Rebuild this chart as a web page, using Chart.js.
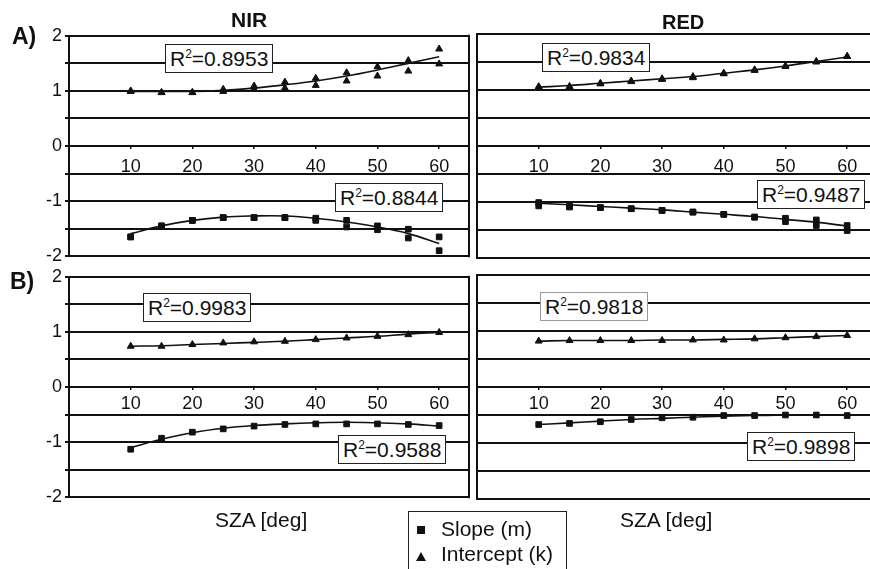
<!DOCTYPE html>
<html>
<head>
<meta charset="utf-8">
<script src="https://cdn.jsdelivr.net/npm/chart.js@4.4.1/dist/chart.umd.min.js"></script>
<style>
    html, body { margin: 0; padding: 0; background: #fff; }
    body {
        width: 870px; height: 569px; overflow: hidden; position: relative;
        font-family: 'Liberation Sans', Arial, sans-serif; color: #111;
    }
    canvas.panel { position: absolute; }
    .lbl { position: absolute; line-height: 1; white-space: nowrap; }
    .bold { font-weight: bold; }
    .r2 {
        position: absolute; background: #fff; border: 1.5px solid #222;
        font-size: 21px; line-height: 27px; padding: 0 4px; white-space: nowrap;
    }
    .r2 sup { font-size: 12px; line-height: 0; vertical-align: 8px; }
    .r2.light { border-color: #999; }
    #legend {
        position: absolute; left: 408px; top: 511px; width: 157px; height: 70px;
        border: 1.5px solid #222; background: #fff; font-size: 21px;
    }
    #legend .row { position: absolute; left: 32px; line-height: 25px; white-space: nowrap; }
    #legend .sq { position: absolute; left: 8px; top: 14px; width: 8px; height: 8px; background: #111; }
    #legend .tri {
        position: absolute; left: 7px; top: 40px; width: 0; height: 0;
        border-left: 5px solid transparent; border-right: 5px solid transparent;
        border-bottom: 9px solid #111;
    }
</style>
</head>
<body>
<canvas class="panel" id="a-nir" width="475" height="248" style="left:0;top:22px"></canvas>
<canvas class="panel" id="a-red" width="413" height="248" style="left:470px;top:22px"></canvas>
<canvas class="panel" id="b-nir" width="475" height="248" style="left:0;top:263px"></canvas>
<canvas class="panel" id="b-red" width="413" height="248" style="left:470px;top:263px"></canvas>

<div class="lbl bold" style="left:231px;top:9px;font-size:21px">NIR</div>
<div class="lbl bold" style="left:662px;top:12px;font-size:20px">RED</div>
<div class="lbl bold" style="left:12px;top:25px;font-size:23px">A)</div>
<div class="lbl bold" style="left:10px;top:270px;font-size:23px">B)</div>

<div class="r2" style="left:165px;top:44px">R<sup>2</sup>=0.8953</div>
<div class="r2" style="left:335px;top:183px">R<sup>2</sup>=0.8844</div>
<div class="r2" style="left:542px;top:43px">R<sup>2</sup>=0.9834</div>
<div class="r2" style="left:757px;top:180px">R<sup>2</sup>=0.9487</div>
<div class="r2" style="left:143px;top:293px">R<sup>2</sup>=0.9983</div>
<div class="r2" style="left:338px;top:435px">R<sup>2</sup>=0.9588</div>
<div class="r2 light" style="left:540px;top:292px">R<sup>2</sup>=0.9818</div>
<div class="r2" style="left:747px;top:432px">R<sup>2</sup>=0.9898</div>

<div class="lbl" style="left:215px;top:509px;font-size:21px">SZA [deg]</div>
<div class="lbl" style="left:620px;top:509px;font-size:21px">SZA [deg]</div>

<div id="legend">
    <span class="sq"></span><span class="tri"></span>
    <div class="row" style="top:4px">Slope (m)</div>
    <div class="row" style="top:29px">Intercept (k)</div>
</div>

<script>
(function () {
    'use strict';

    const INK = '#111';
    const SZA = [10, 15, 20, 25, 30, 35, 40, 45, 50, 55, 60];
    const X_TICKS = [10, 20, 30, 40, 50, 60];
    const Y_GRID = [-2, -1.5, -1, -0.5, 0, 0.5, 1, 1.5, 2];

    /* ---------- A) NIR ---------- */
    const aNirK1 = [1.00, 0.97, 0.97, 1.03, 1.09, 1.16, 1.23, 1.33, 1.44, 1.55, 1.76];
    const aNirK2 = [0.99, 0.97, 0.97, 0.99, 1.03, 1.05, 1.10, 1.18, 1.27, 1.36, 1.49];
    const aNirKFit = [0.99, 0.99, 0.99, 1.01, 1.05, 1.11, 1.18, 1.27, 1.38, 1.50, 1.62];
    const aNirM1 = [-1.65, -1.45, -1.35, -1.30, -1.30, -1.30, -1.31, -1.35, -1.45, -1.51, -1.65];
    const aNirM2 = [-1.65, -1.45, -1.35, -1.30, -1.30, -1.30, -1.35, -1.47, -1.52, -1.67, -1.90];
    const aNirMFit = [-1.59, -1.45, -1.35, -1.29, -1.27, -1.27, -1.31, -1.38, -1.47, -1.59, -1.77];

    /* ---------- A) RED ---------- */
    const aRedK1 = [1.06, 1.06, 1.12, 1.16, 1.20, 1.24, 1.30, 1.36, 1.43, 1.51, 1.60];
    const aRedK2 = [1.05, 1.06, 1.11, 1.15, 1.19, 1.22, 1.29, 1.35, 1.42, 1.50, 1.60];
    const aRedKFit = [1.05, 1.08, 1.12, 1.16, 1.20, 1.24, 1.30, 1.36, 1.43, 1.51, 1.59];
    const aRedM1 = [-1.01, -1.07, -1.10, -1.12, -1.15, -1.18, -1.22, -1.27, -1.29, -1.32, -1.42];
    const aRedM2 = [-1.07, -1.09, -1.10, -1.12, -1.15, -1.18, -1.22, -1.27, -1.35, -1.42, -1.51];
    const aRedMFit = [-1.02, -1.05, -1.08, -1.11, -1.14, -1.18, -1.22, -1.26, -1.31, -1.36, -1.43];

    /* ---------- B) NIR ---------- */
    const bNirK = [0.74, 0.74, 0.77, 0.80, 0.82, 0.83, 0.86, 0.89, 0.92, 0.95, 0.99];
    const bNirKFit = [0.74, 0.75, 0.77, 0.79, 0.81, 0.83, 0.86, 0.89, 0.92, 0.96, 0.99];
    const bNirM = [-1.13, -0.93, -0.82, -0.76, -0.71, -0.68, -0.67, -0.67, -0.67, -0.68, -0.70];
    const bNirMFit = [-1.10, -0.95, -0.83, -0.75, -0.70, -0.67, -0.65, -0.64, -0.65, -0.67, -0.71];

    /* ---------- B) RED ---------- */
    const bRedK = [0.82, 0.83, 0.83, 0.83, 0.83, 0.84, 0.84, 0.86, 0.88, 0.90, 0.92];
    const bRedKFit = [0.82, 0.83, 0.83, 0.83, 0.84, 0.84, 0.85, 0.86, 0.88, 0.90, 0.92];
    const bRedM = [-0.67, -0.65, -0.62, -0.58, -0.55, -0.54, -0.51, -0.51, -0.50, -0.50, -0.51];
    const bRedMFit = [-0.67, -0.64, -0.61, -0.58, -0.56, -0.54, -0.52, -0.51, -0.50, -0.50, -0.50];

    Chart.defaults.font.family = "'Liberation Sans', Arial, sans-serif";

    function xy(values) {
        return SZA.map((x, i) => ({ x: x, y: values[i] }));
    }

    function fitLine(values) {
        return {
            data: xy(values), showLine: true, tension: 0.4,
            borderColor: INK, borderWidth: 1.6, pointRadius: 0, fill: false
        };
    }

    function markers(values, style) {
        return {
            data: xy(values), showLine: false, pointStyle: style,
            pointRadius: 4, backgroundColor: INK, borderColor: INK, borderWidth: 1
        };
    }

    // right edge of the box (top/bottom/left come from grid and axis)
    const frameRight = {
        id: 'frameRight',
        afterDraw(chart) {
            const a = chart.chartArea;
            const ctx = chart.ctx;
            ctx.save();
            ctx.strokeStyle = INK;
            ctx.lineWidth = 2;
            ctx.beginPath();
            ctx.moveTo(a.right - 1, a.top - 1);
            ctx.lineTo(a.right - 1, a.bottom + 1);
            ctx.stroke();
            ctx.restore();
        }
    };

    function makePanel(id, p) {
        const datasets = [fitLine(p.kFit), fitLine(p.mFit)];
        p.k.forEach(v => datasets.push(markers(v, 'triangle')));
        p.m.forEach(v => datasets.push(markers(v, 'rect')));

        new Chart(document.getElementById(id), {
            type: 'scatter',
            data: { datasets: datasets },
            plugins: [frameRight],
            options: {
                responsive: false,
                animation: false,
                layout: { padding: { left: p.padLeft, right: 4, top: 12, bottom: 12 } },
                plugins: { legend: { display: false }, tooltip: { enabled: false } },
                scales: {
                    x: {
                        type: 'linear', min: 0, max: 65, position: { y: 0 },
                        afterBuildTicks: s => { s.ticks = X_TICKS.map(v => ({ value: v })); },
                        grid: { display: true, drawOnChartArea: false, drawTicks: true, tickLength: 3, color: INK, lineWidth: 1.5 },
                        border: { display: false },
                        ticks: { font: { size: 18 }, color: INK, padding: p.xPad, maxRotation: 0, autoSkip: false }
                    },
                    y: {
                        type: 'linear', min: -2, max: 2,
                        afterBuildTicks: s => { s.ticks = Y_GRID.map(v => ({ value: v })); },
                        afterFit: s => { s.width = p.yWidth; },
                        grid: { color: INK, lineWidth: 2, drawTicks: p.showY, tickLength: p.showY ? 4 : 0 },
                        border: { display: true, color: INK, width: 2 },
                        ticks: {
                            display: p.showY, font: { size: 18 }, color: INK, padding: 3,
                            callback: v => (Number.isInteger(v) ? String(v) : '')
                        }
                    }
                }
            }
        });
    }

    makePanel('a-nir', { k: [aNirK1, aNirK2], kFit: aNirKFit, m: [aNirM1, aNirM2], mFit: aNirMFit,
        showY: true, yWidth: 69, padLeft: 0, xPad: 7 });
    makePanel('a-red', { k: [aRedK1, aRedK2], kFit: aRedKFit, m: [aRedM1, aRedM2], mFit: aRedMFit,
        showY: false, yWidth: 0, padLeft: 7, xPad: 7 });
    makePanel('b-nir', { k: [bNirK], kFit: bNirKFit, m: [bNirM], mFit: bNirMFit,
        showY: true, yWidth: 69, padLeft: 0, xPad: 3 });
    makePanel('b-red', { k: [bRedK], kFit: bRedKFit, m: [bRedM], mFit: bRedMFit,
        showY: false, yWidth: 0, padLeft: 7, xPad: 3 });
})();
</script>
</body>
</html>
